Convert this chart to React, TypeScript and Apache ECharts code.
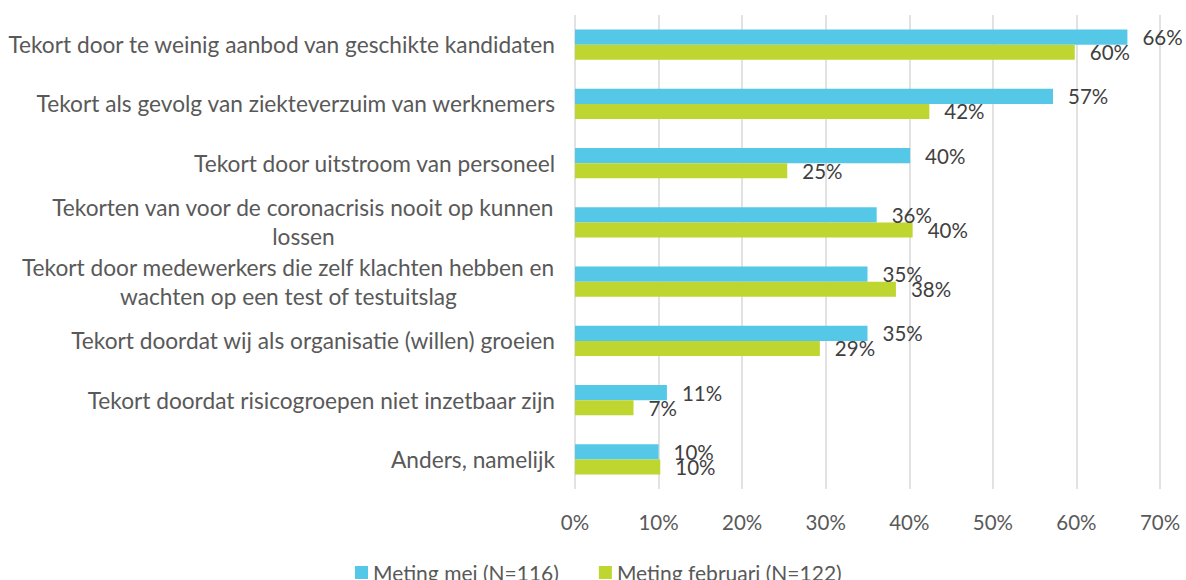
import React, { useEffect, useRef } from "react";
import * as echarts from "echarts";

const categories = [
  "Tekort door te weinig aanbod van geschikte kandidaten",
  "Tekort als gevolg van ziekteverzuim van werknemers",
  "Tekort door uitstroom van personeel",
  "Tekorten van voor de coronacrisis nooit op kunnen\nlossen",
  "Tekort door medewerkers die zelf klachten hebben en\nwachten op een test of testuitslag",
  "Tekort doordat wij als organisatie (willen) groeien",
  "Tekort doordat risicogroepen niet inzetbaar zijn",
  "Anders, namelijk",
];
const seriesNames = ["Meting mei (N=116)", "Meting februari (N=122)"];
const meiValues = [66.1, 57.2, 40.1, 36.1, 35.0, 35.0, 11.0, 10.0];
const februariValues = [59.8, 42.4, 25.4, 40.4, 38.4, 29.3, 7.0, 10.2];
const xTicks = [0, 10, 20, 30, 40, 50, 60, 70];

const FONT = "Lato";
const CAT_SIZE = 22.7;
const CAT_LINE = 29;

function measure(text: string): number {
  const c = document.createElement("canvas").getContext("2d");
  if (!c) return text.length * CAT_SIZE * 0.5;
  c.font = `${CAT_SIZE}px ${FONT}`;
  return c.measureText(text).width;
}

export default function App() {
  const ref = useRef<HTMLDivElement>(null);
  useEffect(() => {
    if (!ref.current) return;
    const chart = echarts.init(ref.current, undefined, { renderer: "svg" });
    const rich: Record<string, any> = {};
    categories.forEach((cat, i) => {
      const lines = cat.split("\n");
      if (lines.length < 2) return;
      const widths = lines.map(measure);
      const w = Math.max(...widths);
      lines.forEach((_, j) => {
        rich["r" + i + "_" + j] = {
          align: "left",
          padding: [0, 0, 0, Math.round((w - widths[j]) / 2)],
          color: "#595959",
          fontSize: CAT_SIZE,
          fontFamily: FONT,
          lineHeight: CAT_LINE,
        };
      });
    });
    const label = {
      show: true,
      position: "right",
      distance: 15,
      color: "#404040",
      fontFamily: FONT,
      fontSize: 20.5,
      formatter: (p: any) => Math.round(p.value) + "%",
    };
    chart.setOption({
      animation: false,
      textStyle: { fontFamily: FONT },
      grid: { left: 575, right: 26, top: 15, bottom: 91, containLabel: false },
      legend: {
        data: seriesNames,
        bottom: -8,
        left: 350,
        itemWidth: 13,
        itemHeight: 13,
        itemGap: 40,
        icon: "rect",
        textStyle: { color: "#595959", fontSize: 21, fontFamily: FONT },
      },
      xAxis: {
        type: "value",
        min: xTicks[0],
        max: xTicks[xTicks.length - 1],
        interval: 10,
        axisLine: { show: false },
        axisTick: { show: false },
        splitLine: { show: true, lineStyle: { color: "#D9D9D9", width: 1.5 } },
        axisLabel: {
          margin: 22,
          color: "#595959",
          fontSize: 20.5,
          fontFamily: FONT,
          formatter: (v: number) => v + "%",
        },
      },
      yAxis: {
        type: "category",
        data: categories,
        inverse: true,
        axisLine: { show: false },
        axisTick: { show: false },
        axisLabel: {
          margin: 20,
          color: "#595959",
          fontSize: CAT_SIZE,
          fontFamily: FONT,
          lineHeight: CAT_LINE,
          align: "right",
          formatter: (v: string, idx: number) => {
            const lines = v.split("\n");
            if (lines.length === 1) return v;
            return lines.map((l, j) => "{r" + idx + "_" + j + "|" + l + "}").join("\n");
          },
          rich,
        },
      },
      series: [
        {
          name: seriesNames[0],
          type: "bar",
          data: meiValues,
          itemStyle: { color: "#55C8E8" },
          barGap: "0%",
          barCategoryGap: "49%",
          label,
        },
        {
          name: seriesNames[1],
          type: "bar",
          data: februariValues,
          itemStyle: { color: "#BFD630" },
          barGap: "0%",
          barCategoryGap: "49%",
          label,
        },
      ],
    });
    return () => chart.dispose();
  }, []);
  return <div ref={ref} style={{ width: 1186, height: 580, position: "absolute", left: 0, top: 0 }} />;
}
